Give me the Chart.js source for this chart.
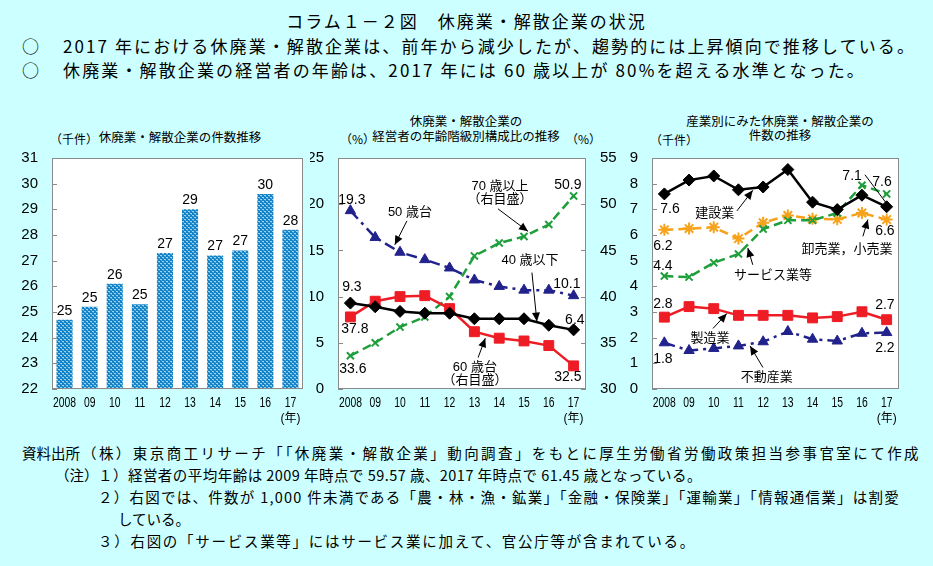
<!DOCTYPE html>
<html lang="ja">
<head>
<meta charset="utf-8">
<script src="https://cdn.jsdelivr.net/npm/chart.js@4.4.1/dist/chart.umd.min.js"></script>
<style>
body { margin: 0; }
#page { position: relative; width: 933px; height: 566px; background: #ccffff; overflow: hidden; font-family: 'Noto Sans CJK JP', sans-serif; color: #000; }
.t { position: absolute; white-space: nowrap; line-height: 1; }
.c { text-align: center; }
canvas { position: absolute; }
</style>
</head>
<body>
<div id="page">
  <div class="t c" style="left:0;width:933px;top:12px;font-size:17px;letter-spacing:2px;">コラム１－２図　休廃業・解散企業の状況</div>
  <div class="t" style="left:22px;top:37px;font-size:17px;">○</div>
  <div class="t fit" data-w="853" style="left:63px;top:37px;font-size:17px;">2017 年における休廃業・解散企業は、前年から減少したが、趨勢的には上昇傾向で推移している。</div>
  <div class="t" style="left:22px;top:61px;font-size:17px;">○</div>
  <div class="t fit" data-w="803" style="left:63px;top:61px;font-size:17px;">休廃業・解散企業の経営者の年齢は、2017 年には 60 歳以上が 80%を超える水準となった。</div>

  <div class="t c" style="left:80px;width:200px;top:131px;font-size:12.5px;">休廃業・解散企業の件数推移</div>
  <div class="t" style="left:50px;top:133px;font-size:12px;">（千件）</div>

  <div class="t c" style="left:366px;width:200px;top:115px;font-size:12.5px;">休廃業・解散企業の</div>
  <div class="t c" style="left:366px;width:200px;top:130px;font-size:12.5px;">経営者の年齢階級別構成比の推移</div>
  <div class="t" style="left:340px;top:133px;font-size:12px;">（%）</div>
  <div class="t" style="left:566px;top:133px;font-size:12px;">（%）</div>

  <div class="t c" style="left:680px;width:200px;top:115px;font-size:12.5px;">産業別にみた休廃業・解散企業の</div>
  <div class="t c" style="left:680px;width:200px;top:129px;font-size:12.5px;">件数の推移</div>
  <div class="t" style="left:650px;top:134px;font-size:12px;">（千件）</div>

  <canvas id="chartCount" width="310" height="287" style="left:0;top:143px;"></canvas>
  <canvas id="chartAge" width="310" height="287" style="left:310px;top:143px;"></canvas>
  <canvas id="chartIndustry" width="313" height="287" style="left:620px;top:143px;"></canvas>

  <div class="t" style="left:22px;top:446px;font-size:14.5px;">資料出所</div>
  <div class="t fit" data-w="839" style="left:82px;top:446px;font-size:14.5px;">（株）東京商工リサーチ「「休廃業・解散企業」動向調査」をもとに厚生労働省労働政策担当参事官室にて作成</div>
  <div class="t" style="left:55px;top:468px;font-size:14.5px;">（注）</div>
  <div class="t fit" data-w="604" style="left:98px;top:468px;font-size:14.5px;">１）経営者の平均年齢は 2009 年時点で 59.57 歳、2017 年時点で 61.45 歳となっている。</div>
  <div class="t fit" data-w="802" style="left:98px;top:490px;font-size:14.5px;">２）右図では、件数が 1,000 件未満である「農・林・漁・鉱業」「金融・保険業」「運輸業」「情報通信業」は割愛</div>
  <div class="t" style="left:118px;top:512px;font-size:14.5px;">している。</div>
  <div class="t fit" data-w="598" style="left:98px;top:534px;font-size:14.5px;">３）右図の「サービス業等」にはサービス業に加えて、官公庁等が含まれている。</div>
</div>
<script>
// data
const years = ['2008', '09', '10', '11', '12', '13', '14', '15', '16', '17'];
// 休廃業・解散企業の件数 (千件)
const closures = [24.7, 25.2, 26.1, 25.3, 27.3, 29.0, 27.2, 27.4, 29.6, 28.2];
// 経営者の年齢階級別構成比 (%)
const ageUnder40 = [9.3, 8.9, 8.4, 8.2, 8.2, 7.6, 7.6, 7.6, 6.9, 6.4];
const age50s = [19.3, 16.4, 14.8, 14.0, 13.1, 11.8, 11.1, 10.7, 10.7, 10.1];
const age60s = [37.8, 39.5, 40.0, 40.1, 38.7, 36.2, 35.5, 35.2, 34.7, 32.5];   // 右目盛
const age70plus = [33.6, 35.0, 36.7, 37.8, 40.0, 44.4, 45.8, 46.5, 47.8, 50.9]; // 右目盛
// 産業別 (千件)
const construction = [7.6, 8.14, 8.3, 7.76, 7.87, 8.55, 7.28, 6.99, 7.55, 7.1];
const wholesaleRetail = [6.2, 6.25, 6.3, 5.86, 6.48, 6.76, 6.63, 6.61, 6.86, 6.6];
const services = [4.4, 4.36, 4.92, 5.26, 6.23, 6.57, 6.57, 6.86, 7.94, 7.6];
const manufacturing = [2.8, 3.21, 3.13, 2.87, 2.87, 2.87, 2.77, 2.82, 3.01, 2.7];
const realEstate = [1.8, 1.5, 1.58, 1.68, 1.84, 2.24, 1.94, 1.87, 2.17, 2.2];

// fit long text lines to the width they take in the original
document.querySelectorAll('.fit').forEach(el => {
    const n = el.textContent.length;
    const w = el.getBoundingClientRect().width;
    el.style.letterSpacing = ((+el.dataset.w - w) / n) + 'px';
});

const FONT = "'Liberation Sans', 'Noto Sans CJK JP', sans-serif";
const BLACK = '#000000', NAVY = '#22228c', RED = '#ee1c24', GREEN = '#1f9e3c', ORANGE = '#f7a21b';

// white plot area, grey frame, inward tick marks, narrow year labels, "(年)"
const framePlugin = {
    id: 'frame',
    beforeDatasetsDraw(chart) {
        const a = chart.chartArea, ctx = chart.ctx;
        ctx.save();
        ctx.fillStyle = '#ffffff';
        ctx.fillRect(a.left, a.top, a.right - a.left, a.bottom - a.top);
        ctx.restore();
    },
    afterDraw(chart) {
        const a = chart.chartArea, ctx = chart.ctx;
        ctx.save();
        ctx.strokeStyle = '#8a8a8a';
        ctx.lineWidth = 1;
        ctx.strokeRect(a.left + 0.5, a.top + 0.5, a.right - a.left - 1, a.bottom - a.top - 1);
        Object.values(chart.scales).forEach(s => {
            if (s.axis !== 'y') return;
            s.ticks.forEach(t => {
                const y = Math.round(s.getPixelForValue(t.value)) + 0.5;
                ctx.beginPath();
                if (s.position === 'left') { ctx.moveTo(a.left, y); ctx.lineTo(a.left + 5, y); }
                else { ctx.moveTo(a.right - 5, y); ctx.lineTo(a.right, y); }
                ctx.stroke();
            });
        });
        // the year labels are condensed in the original
        const x = chart.scales.x;
        ctx.fillStyle = '#000';
        ctx.font = "14px " + FONT;
        ctx.textAlign = 'center';
        ctx.textBaseline = 'middle';
        years.forEach((yr, i) => {
            ctx.save();
            ctx.translate(x.getPixelForValue(i), a.bottom + 14);
            ctx.scale(0.74, 1);
            ctx.fillText(yr, 0, 0);
            ctx.restore();
        });
        ctx.font = "12px " + FONT;
        ctx.fillText('(年)', x.getPixelForValue(years.length - 1), a.bottom + 30);
        ctx.restore();
    }
};

// numbers above the bars
const barLabels = {
    id: 'barLabels',
    afterDatasetsDraw(chart) {
        const ctx = chart.ctx;
        ctx.save();
        ctx.font = "14px " + FONT;
        ctx.fillStyle = '#000';
        ctx.textAlign = 'center';
        ctx.textBaseline = 'bottom';
        chart.getDatasetMeta(0).data.forEach((bar, i) => {
            ctx.fillText(Math.round(closures[i]), bar.x, bar.y - 2);
        });
        ctx.restore();
    }
};

function drawArrow(ctx, x1, y1, x2, y2, head) {
    ctx.beginPath();
    ctx.moveTo(x1, y1);
    ctx.lineTo(x2, y2);
    ctx.stroke();
    if (!head) return;
    const ang = Math.atan2(y2 - y1, x2 - x1), L = 9, W = 4;
    ctx.beginPath();
    ctx.moveTo(x2, y2);
    ctx.lineTo(x2 - L * Math.cos(ang) + W * Math.sin(ang), y2 - L * Math.sin(ang) - W * Math.cos(ang));
    ctx.lineTo(x2 - L * Math.cos(ang) - W * Math.sin(ang), y2 - L * Math.sin(ang) + W * Math.cos(ang));
    ctx.closePath();
    ctx.fill();
}

// text labels and arrows placed in data units (category index, y value)
const annotate = {
    id: 'annotate',
    afterDraw(chart, args, opts) {
        const ctx = chart.ctx, xs = chart.scales.x, ys = chart.scales.y;
        const px = v => xs.getPixelForValue(v), py = v => ys.getPixelForValue(v);
        ctx.save();
        ctx.strokeStyle = '#000';
        ctx.fillStyle = '#000';
        ctx.lineWidth = 1;
        (opts.arrows || []).forEach(a => drawArrow(ctx, px(a[0]), py(a[1]), px(a[2]), py(a[3]), a[4] !== false));
        ctx.textAlign = 'center';
        ctx.textBaseline = 'middle';
        (opts.labels || []).forEach(l => {
            ctx.font = (l.size || 13) + "px " + FONT;
            l.text.split('\n').forEach((line, k) => {
                ctx.fillText(line, px(l.x), py(l.y) + k * 13);
            });
        });
        ctx.restore();
    }
};

function dottedPattern() {
    const c = document.createElement('canvas');
    c.width = 4; c.height = 4;
    const p = c.getContext('2d');
    p.fillStyle = '#1682c6';
    p.fillRect(0, 0, 4, 4);
    p.fillStyle = '#9ad5f0';
    p.fillRect(0, 0, 2, 1);
    p.fillRect(2, 2, 2, 1);
    p.fillStyle = '#4ea8dc';
    p.fillRect(1, 1, 1, 1);
    p.fillRect(3, 3, 1, 1);
    return p.createPattern(c, 'repeat');
}

function xAxis() {
    return {
        grid: { display: false },
        border: { display: false },
        offset: true,
        ticks: { display: false },
        afterFit: s => { s.height = 41; }
    };
}
function yAxis(min, max, step, width, position) {
    return {
        position: position,
        min: min, max: max,
        grid: { display: false },
        border: { display: false },
        ticks: { stepSize: step, font: { family: FONT, size: 15 }, color: '#000', padding: 6 },
        afterFit: s => { s.width = width; }
    };
}
function line(data, color, style, radius, dash, axis) {
    return {
        data: data,
        yAxisID: axis || 'y',
        borderColor: color,
        borderWidth: 2.5,
        borderDash: dash || [],
        pointStyle: style,
        pointRadius: radius,
        pointBackgroundColor: color,
        pointBorderColor: color,
        pointBorderWidth: (style === 'crossRot' || style === 'star') ? 2 : 1,
        fill: false,
        tension: 0
    };
}
const base = {
    responsive: false,
    animation: false,
    events: [],
    plugins: { legend: { display: false }, tooltip: { enabled: false } }
};
const DASHDOT = [11, 5, 3, 5];
const DASH = [9, 5];

// 休廃業・解散企業の件数推移
new Chart(document.getElementById('chartCount'), {
    type: 'bar',
    data: {
        labels: years,
        datasets: [{ data: closures, backgroundColor: dottedPattern(), barPercentage: 0.64, categoryPercentage: 1 }]
    },
    options: Object.assign({}, base, {
        layout: { padding: { left: 12, right: 7, top: 10, bottom: 0 } },
        scales: { x: xAxis(), y: yAxis(22, 31, 1, 40, 'left') }
    }),
    plugins: [framePlugin, barLabels]
});

// 経営者の年齢階級別構成比の推移
new Chart(document.getElementById('chartAge'), {
    type: 'line',
    data: {
        labels: years,
        datasets: [
            line(ageUnder40, BLACK, 'rectRot', 6),
            line(age60s, RED, 'rect', 7, null, 'y1'),
            line(age50s, NAVY, 'triangle', 6, DASHDOT),
            line(age70plus, GREEN, 'crossRot', 5, DASH, 'y1')
        ]
    },
    options: Object.assign({}, base, {
        layout: { padding: { left: 0, right: 0, top: 10, bottom: 0 } },
        scales: { x: xAxis(), y: yAxis(0, 25, 5, 28, 'left'), y1: yAxis(30, 55, 5, 34, 'right') },
        plugins: Object.assign({}, base.plugins, {
            annotate: {
                labels: [
                    { text: age50s[0].toFixed(1), x: 0.06, y: 20.4, size: 14 },
                    { text: '50 歳台', x: 2.4, y: 19.1 },
                    { text: '70 歳以上\n（右目盛）', x: 6.03, y: 21.9 },
                    { text: age70plus[9].toFixed(1), x: 8.77, y: 22.1, size: 14 },
                    { text: '40 歳以下', x: 7.24, y: 13.9 },
                    { text: age50s[9].toFixed(1), x: 8.73, y: 11.3, size: 14 },
                    { text: ageUnder40[0].toFixed(1), x: 0.06, y: 11.0, size: 14 },
                    { text: ageUnder40[9].toFixed(1), x: 9.05, y: 7.5, size: 14 },
                    { text: age60s[0].toFixed(1), x: 0.18, y: 6.46, size: 14 },
                    { text: age70plus[0].toFixed(1), x: 0.1, y: 2.2, size: 14 },
                    { text: '60 歳台\n（右目盛）', x: 5.02, y: 2.33 },
                    { text: age60s[9].toFixed(1), x: 8.77, y: 1.27, size: 14 }
                ],
                arrows: [
                    [2.28, 18.2, 1.79, 15.6],
                    [5.95, 19.5, 7.16, 17.06],
                    [7.32, 12.6, 7.52, 7.3],
                    [5.15, 3.4, 5.44, 5.5]
                ]
            }
        })
    }),
    plugins: [framePlugin, annotate]
});

// 産業別にみた休廃業・解散企業の件数の推移
new Chart(document.getElementById('chartIndustry'), {
    type: 'line',
    data: {
        labels: years,
        datasets: [
            line(construction, BLACK, 'rectRot', 6),
            line(services, GREEN, 'crossRot', 5, DASH),
            line(wholesaleRetail, ORANGE, 'star', 6, DASH),
            line(manufacturing, RED, 'rect', 7),
            line(realEstate, NAVY, 'triangle', 6, DASHDOT)
        ]
    },
    options: Object.assign({}, base, {
        layout: { padding: { left: 0, right: 34, top: 10, bottom: 0 } },
        scales: { x: xAxis(), y: yAxis(0, 9, 1, 32, 'left') },
        plugins: Object.assign({}, base.plugins, {
            annotate: {
                labels: [
                    { text: construction[0].toFixed(1), x: 0.23, y: 7.02, size: 14 },
                    { text: '建設業', x: 2.04, y: 6.86 },
                    { text: construction[9].toFixed(1), x: 7.6, y: 8.28, size: 14 },
                    { text: services[9].toFixed(1), x: 8.81, y: 8.05, size: 14 },
                    { text: wholesaleRetail[0].toFixed(1), x: -0.06, y: 5.57, size: 14 },
                    { text: services[0].toFixed(1), x: -0.06, y: 4.8, size: 14 },
                    { text: '卸売業，小売業', x: 7.39, y: 5.42 },
                    { text: 'サービス業等', x: 4.4, y: 4.42 },
                    { text: wholesaleRetail[9].toFixed(1), x: 8.93, y: 6.14, size: 14 },
                    { text: manufacturing[0].toFixed(1), x: -0.06, y: 3.32, size: 14 },
                    { text: manufacturing[9].toFixed(1), x: 8.93, y: 3.28, size: 14 },
                    { text: '製造業', x: 1.85, y: 1.98 },
                    { text: realEstate[0].toFixed(1), x: -0.06, y: 1.18, size: 14 },
                    { text: realEstate[9].toFixed(1), x: 8.93, y: 1.6, size: 14 },
                    { text: '不動産業', x: 4.15, y: 0.46 }
                ],
                arrows: [
                    [2.94, 6.94, 3.58, 7.74],
                    [8.12, 8.35, 9.01, 7.21, false],
                    [8.04, 5.95, 8.24, 6.6],
                    [3.58, 4.84, 3.38, 5.49],
                    [1.97, 2.36, 2.53, 2.94],
                    [3.99, 0.84, 3.47, 1.68]
                ]
            }
        })
    }),
    plugins: [framePlugin, annotate]
});
</script>
</body>
</html>
